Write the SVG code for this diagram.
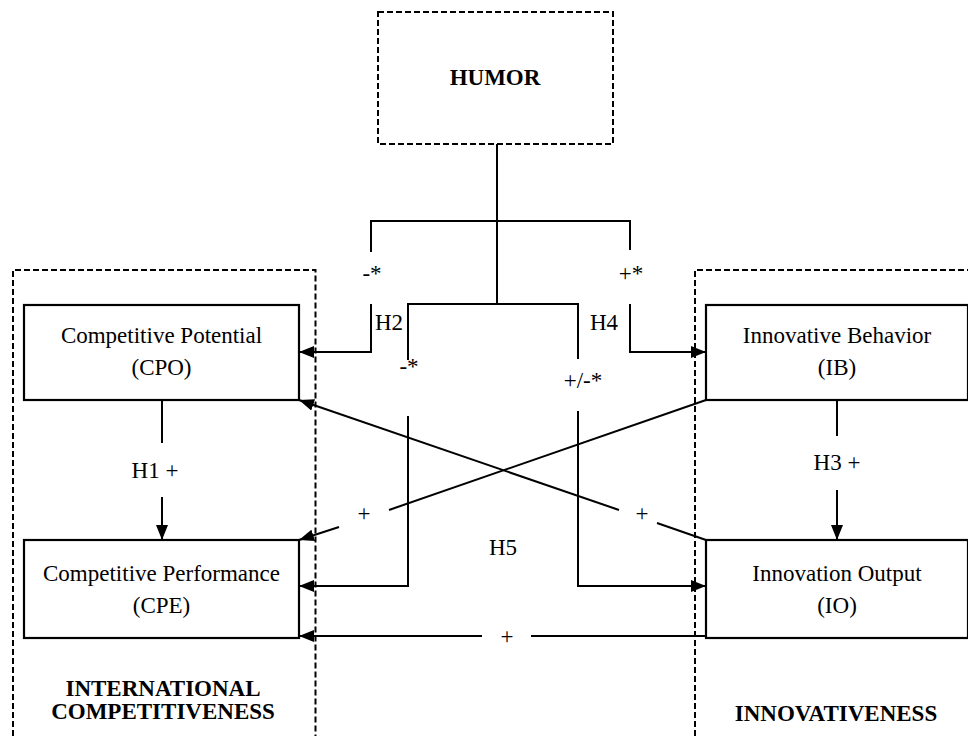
<svg xmlns="http://www.w3.org/2000/svg" width="968" height="736" viewBox="0 0 968 736">
<style>
  .box { fill: #fff; stroke: #000; stroke-width: 2.2; }
  .dash { fill: none; stroke: #000; stroke-width: 2; stroke-dasharray: 6 3; }
  .ln { fill: none; stroke: #000; stroke-width: 2; }
  .arr { marker-end: url(#ah); }
  text { font-family: "Liberation Serif", "Times New Roman", serif; font-size: 23px; fill: #000; text-anchor: middle; }
  .b { font-weight: bold; }
</style>
<defs>
  <marker id="ah" markerUnits="userSpaceOnUse" markerWidth="15" markerHeight="12" refX="15" refY="6" orient="auto">
    <path d="M0,0 L15,6 L0,12 z" fill="#000"/>
  </marker>
</defs>
<rect width="968" height="736" fill="#fff"/>

<g id="container-competitiveness">
  <path class="dash" d="M13,736 V270 H315.5 V736"/>
  <text class="b" x="163" y="696">INTERNATIONAL</text>
  <text class="b" x="163" y="719">COMPETITIVENESS</text>
</g>
<g id="container-innovativeness">
  <path class="dash" d="M695,736 V270 H968"/>
  <text class="b" x="836" y="721">INNOVATIVENESS</text>
</g>

<g id="humor">
  <rect class="dash" x="378" y="12" width="235" height="132"/>
  <text class="b" x="495" y="85">HUMOR</text>
</g>
<g id="cpo">
  <rect class="box" x="24" y="305" width="275" height="95"/>
  <text x="161.5" y="343">Competitive Potential</text>
  <text x="161.5" y="375">(CPO)</text>
</g>
<g id="ib">
  <rect class="box" x="706" y="305" width="262" height="95"/>
  <text x="837" y="343">Innovative Behavior</text>
  <text x="837" y="375">(IB)</text>
</g>
<g id="cpe">
  <rect class="box" x="24" y="540" width="275" height="98"/>
  <text x="161.5" y="581">Competitive Performance</text>
  <text x="161.5" y="613">(CPE)</text>
</g>
<g id="io">
  <rect class="box" x="706" y="540" width="262" height="98"/>
  <text x="837" y="581">Innovation Output</text>
  <text x="837" y="613">(IO)</text>
</g>

<g id="connectors">
  <path class="ln" d="M497,144 V304"/>
  <path class="ln" d="M371,252 V221 H630 V250"/>
  <path class="ln" d="M408,360 V304 H578 V359"/>
  <path class="ln arr" d="M371,304 V352 H299"/>
  <path class="ln arr" d="M630,304 V352 H706"/>
  <path class="ln arr" d="M408,416 V586 H299"/>
  <path class="ln arr" d="M578,411 V586 H706"/>
  <path class="ln" d="M162,400 V443"/>
  <path class="ln arr" d="M162,497 V540"/>
  <path class="ln" d="M837,400 V436"/>
  <path class="ln arr" d="M837,490 V540"/>
  <path class="ln" d="M706,540 L657,523"/>
  <path class="ln arr" d="M619,510 L299,400"/>
  <path class="ln" d="M706,400 L389,510"/>
  <path class="ln arr" d="M339,527 L299,540"/>
  <path class="ln" d="M706,636 H531"/>
  <path class="ln arr" d="M482,636 H299"/>

  <text x="372" y="281">-*</text>
  <text x="631" y="281">+*</text>
  <text x="389" y="330">H2</text>
  <text x="604" y="330">H4</text>
  <text x="409" y="374">-*</text>
  <text x="583" y="388">+/-*</text>
  <text x="155" y="478">H1 +</text>
  <text x="837" y="470">H3 +</text>
  <text x="364" y="521">+</text>
  <text x="642" y="521">+</text>
  <text x="503" y="555">H5</text>
  <text x="507" y="644">+</text>
</g>
</svg>
